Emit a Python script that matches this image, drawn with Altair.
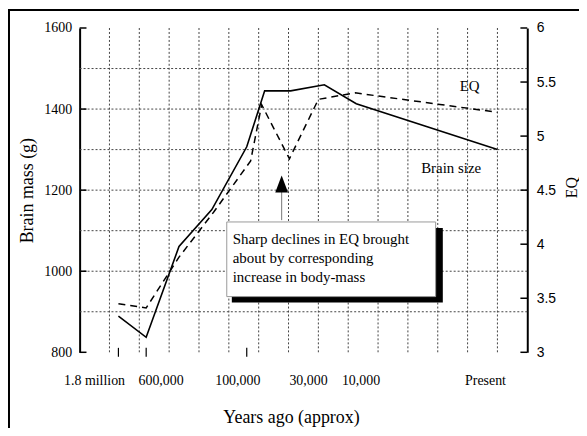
import altair as alt
import pandas as pd

# ---- data ----
brain_pos = [1.3, 2.23, 3.33, 4.43, 5.6, 6.2, 7.07, 8.2, 9.27, 14.0]
brain_mass = [889, 837, 1061, 1152, 1307, 1445, 1445, 1460, 1413, 1300]

eq_pos = [1.3, 2.23, 3.33, 4.5, 5.73, 6.1, 7.03, 8.0, 9.23, 14.0]
eq_val = [3.45, 3.41, 3.88, 4.30, 4.77, 5.29, 4.79, 5.34, 5.40, 5.22]

x_label_pos = [0.5, 2.73, 5.3, 7.67, 9.43, 13.6]
x_labels = ["1.8 million", "600,000", "100,000", "30,000", "10,000", "Present"]
x_tick_pos = [1.3, 2.23, 5.6]

mass_ticks = [800, 1000, 1200, 1400, 1600]
eq_ticks = [3, 3.5, 4, 4.5, 5, 5.5, 6]
v_grid = list(range(1, 15))
h_grid = [900, 1000, 1100, 1200, 1300, 1400, 1500]

x_title = "Years ago (approx)"
note_text = "Sharp declines in EQ brought\nabout by corresponding\nincrease in body-mass"

SERIF = "Liberation Serif"
SANS = "Liberation Sans"

xs = alt.Scale(domain=[0, 15], nice=False, zero=False)
ys = alt.Scale(domain=[800, 1600], nice=False, zero=False)
es = alt.Scale(domain=[3, 6], nice=False, zero=False)

GRID = dict(strokeDash=[2, 2], color="#444", strokeWidth=1)

vgrid = alt.Chart(pd.DataFrame({"p": v_grid, "a": 800, "b": 1600})).mark_rule(**GRID).encode(
    x=alt.X("p:Q", scale=xs, axis=None),
    y=alt.Y("a:Q", scale=ys, axis=None), y2="b:Q")

hgrid = alt.Chart(pd.DataFrame({"v": h_grid, "a": 0, "b": 15})).mark_rule(**GRID).encode(
    y=alt.Y("v:Q", scale=ys, axis=None),
    x=alt.X("a:Q", scale=xs, axis=None), x2="b:Q")

brain = alt.Chart(pd.DataFrame({"pos": brain_pos, "mass": brain_mass})).mark_line(
    color="black", strokeWidth=1.6).encode(
    x=alt.X("pos:Q", scale=xs, axis=alt.Axis(
        values=[0, 15], labels=False, ticks=False, grid=False,
        domainColor="black", domainWidth=2, title=None)),
    y=alt.Y("mass:Q", scale=ys, axis=alt.Axis(
        orient="left", values=mass_ticks, format="d", ticks=False, grid=False,
        domainColor="black", domainWidth=2,
        labelFont=SERIF, labelFontSize=14, labelColor="black", labelPadding=8,
        title="Brain mass (g)", titleFont=SERIF, titleFontSize=18,
        titleFontWeight="normal", titleColor="black",
        titleX=-52, titleY=163, titleAngle=270,
        titleBaseline="middle", titleAlign="center")))

eq = alt.Chart(pd.DataFrame({"pos": eq_pos, "eq": eq_val})).mark_line(
    color="black", strokeWidth=1.5, strokeDash=[7, 5]).encode(
    x=alt.X("pos:Q", scale=xs, axis=None),
    y=alt.Y("eq:Q", scale=es, axis=alt.Axis(
        orient="right", values=eq_ticks, format="~g", ticks=False, grid=False,
        domainColor="black", domainWidth=2,
        labelFont=SANS, labelFontSize=14, labelColor="black", labelPadding=9,
        title="EQ", titleFont=SERIF, titleFontSize=16,
        titleFontWeight="normal", titleColor="black",
        titleX=44, titleY=160, titleAngle=270,
        titleBaseline="middle", titleAlign="center")))

left_ticks = alt.Chart(pd.DataFrame({"v": mass_ticks, "a": 0, "b": 0.23})).mark_rule(
    color="black", strokeWidth=1.5).encode(
    y=alt.Y("v:Q", scale=ys, axis=None), x=alt.X("a:Q", scale=xs, axis=None), x2="b:Q")

right_ticks = alt.Chart(pd.DataFrame({"v": eq_ticks, "a": 14.77, "b": 15})).mark_rule(
    color="black", strokeWidth=1.5).encode(
    y=alt.Y("v:Q", scale=es, axis=None), x=alt.X("a:Q", scale=xs, axis=None), x2="b:Q")

bottom_ticks = alt.Chart(pd.DataFrame({"p": x_tick_pos, "a": 789, "b": 811})).mark_rule(
    color="black", strokeWidth=1.2).encode(
    x=alt.X("p:Q", scale=xs, axis=None), y=alt.Y("a:Q", scale=ys, axis=None), y2="b:Q")

xlab = alt.Chart(pd.DataFrame({"p": x_label_pos, "t": x_labels, "y": 729})).mark_text(
    font=SERIF, fontSize=14, color="black", align="center", baseline="middle").encode(
    x=alt.X("p:Q", scale=xs, axis=None), y=alt.Y("y:Q", scale=ys, axis=None), text="t:N")

xtitle = alt.Chart(pd.DataFrame({"p": [7.1], "y": [626], "t": [x_title]})).mark_text(
    font=SERIF, fontSize=18, color="black", align="center", baseline="alphabetic").encode(
    x=alt.X("p:Q", scale=xs, axis=None), y=alt.Y("y:Q", scale=ys, axis=None), text="t:N")

series_lab = alt.Chart(pd.DataFrame({"p": [13.07, 12.45], "y": [1458, 1254],
                                     "t": ["EQ", "Brain size"]})).mark_text(
    font=SERIF, fontSize=15, color="black", align="center", baseline="middle").encode(
    x=alt.X("p:Q", scale=xs, axis=None), y=alt.Y("y:Q", scale=ys, axis=None), text="t:N")

shadow = alt.Chart(pd.DataFrame({"a": [5.1], "b": [12.17], "c": [922.7], "d": [1106.7]})).mark_rect(
    color="black").encode(
    x=alt.X("a:Q", scale=xs, axis=None), x2="b:Q",
    y=alt.Y("c:Q", scale=ys, axis=None), y2="d:Q")

box = alt.Chart(pd.DataFrame({"a": [4.93], "b": [11.93], "c": [937.4], "d": [1121.5]})).mark_rect(
    fill="white", stroke="#999", strokeWidth=1).encode(
    x=alt.X("a:Q", scale=xs, axis=None), x2="b:Q",
    y=alt.Y("c:Q", scale=ys, axis=None), y2="d:Q")

note = alt.Chart(pd.DataFrame({"p": [5.13], "y": [1097], "t": [note_text]})).mark_text(
    font=SERIF, fontSize=15, color="black", align="left", baseline="top",
    lineBreak="\n", lineHeight=19).encode(
    x=alt.X("p:Q", scale=xs, axis=None), y=alt.Y("y:Q", scale=ys, axis=None), text="t:N")

arrow_line = alt.Chart(pd.DataFrame({"p": [6.77], "a": [1126], "b": [1200]})).mark_rule(
    color="#777", strokeWidth=1).encode(
    x=alt.X("p:Q", scale=xs, axis=None), y=alt.Y("a:Q", scale=ys, axis=None), y2="b:Q")

arrow_head = alt.Chart(pd.DataFrame({"p": [6.77], "y": [1215]})).mark_point(
    shape="M-0.76,1L0,-1L0.76,1Z", filled=True, color="black", opacity=1, size=289).encode(
    x=alt.X("p:Q", scale=xs, axis=None), y=alt.Y("y:Q", scale=ys, axis=None))

border_left = alt.Chart(pd.DataFrame({"k": [0]})).mark_rule(color="black", strokeWidth=2).encode(
    x=alt.value(-71), y=alt.value(-18), y2=alt.value(420))
border_top = alt.Chart(pd.DataFrame({"k": [0]})).mark_rule(color="black", strokeWidth=2).encode(
    x=alt.value(-72), x2=alt.value(510), y=alt.value(-18))

chart = alt.layer(
    vgrid, hgrid, brain, eq, left_ticks, right_ticks, bottom_ticks, xlab, xtitle, series_lab,
    shadow, box, note, arrow_line, arrow_head, border_left, border_top
).resolve_scale(y="independent").properties(
    width=450, height=326,
    autosize=alt.AutoSizeParams(type="none"),
    padding={"left": 72, "top": 19, "right": 52, "bottom": 75},
    background="white",
).configure_view(stroke=None)

chart.save("out.html", embed_options={"renderer": "svg", "actions": False})
